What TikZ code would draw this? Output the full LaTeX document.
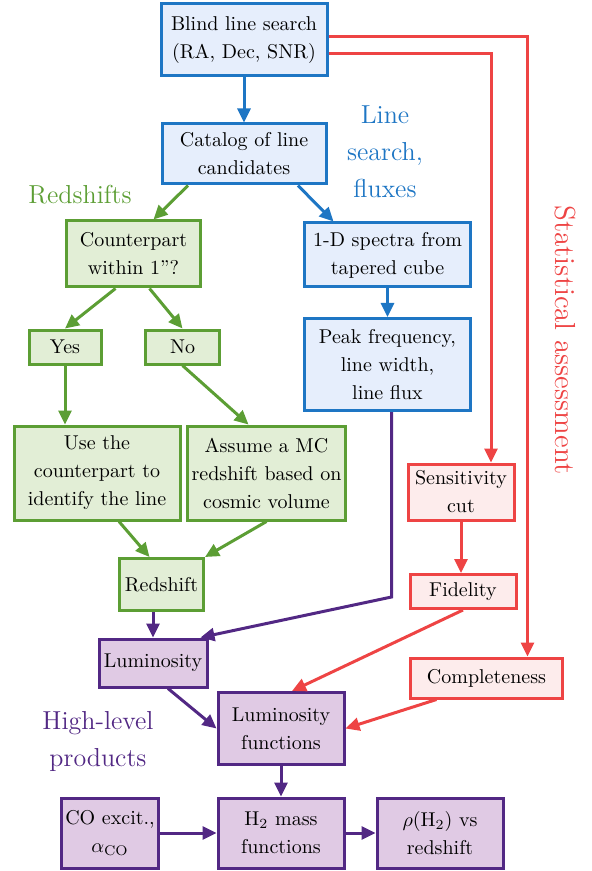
\documentclass[tikz,border=0pt]{standalone}
\usetikzlibrary{arrows.meta}

\definecolor{srchdraw}{RGB}{30,118,196}
\definecolor{srchfill}{RGB}{230,238,252}
\definecolor{zdraw}{RGB}{92,158,52}
\definecolor{zfill}{RGB}{226,238,214}
\definecolor{proddraw}{RGB}{82,40,132}
\definecolor{prodfill}{RGB}{224,202,228}
\definecolor{statdraw}{RGB}{238,68,68}
\definecolor{statfill}{RGB}{253,236,236}

\begin{document}
\begin{tikzpicture}[
    x=0.5pt, y=-0.5pt,
    every node/.style={font=\fontsize{10}{14}\selectfont},
    box/.style={
        rectangle,
        draw,
        line width=1.5pt,
        inner sep=2pt,
        align=center
    },
    srchbox/.style={box, draw=srchdraw, fill=srchfill},
    zbox/.style={box, draw=zdraw, fill=zfill},
    prodbox/.style={box, draw=proddraw, fill=prodfill},
    statbox/.style={box, draw=statdraw, fill=statfill},
    flow/.style={
        ->,
        >={Triangle[length=7pt,width=6.5pt]},
        line width=1.5pt
    },
    heading/.style={
        font=\fontsize{13}{18.5}\selectfont,
        align=center
    }
]
\useasboundingbox (0,0) rectangle (592,871);

% Line search
\node[srchbox, minimum width=83pt, minimum height=36pt] (blind) at (244,40) {Blind line search\\(RA, Dec, SNR)};
\node[srchbox, minimum width=82pt, minimum height=30pt] (catalog) at (244,154) {Catalog of line\\candidates};
\node[srchbox, minimum width=83pt, minimum height=32pt] (spectra) at (387.5,255) {1-D spectra from\\tapered cube};
\node[srchbox, minimum width=83pt, minimum height=46pt] (peak) at (387.5,364.5) {Peak frequency,\\line width,\\line flux};

% Redshifts
\node[zbox, minimum width=67pt, minimum height=33pt] (counter) at (133.5,254) {Counterpart\\within 1''?};
\node[zbox, minimum width=36pt, minimum height=17pt] (yes) at (65,347) {Yes};
\node[zbox, minimum width=37pt, minimum height=17pt] (no) at (182.5,347) {No};
\node[zbox, minimum width=83pt, minimum height=47pt] (use) at (97,473) {Use the\\counterpart to\\identify the line};
\node[zbox, minimum width=75pt, minimum height=47pt] (assume) at (266.5,473) {Assume a MC\\redshift based on\\cosmic volume};
\node[zbox, minimum width=42pt, minimum height=26pt] (redshift) at (161.5,584.5) {Redshift};

% Statistical assessment
\node[statbox, minimum width=53pt, minimum height=28pt] (sens) at (461,492) {Sensitivity\\cut};
\node[statbox, minimum width=53pt, minimum height=17pt] (fid) at (463,591.5) {Fidelity};
\node[statbox, minimum width=76pt, minimum height=20pt] (compl) at (486.5,678) {Completeness};

% High-level products
\node[prodbox, minimum width=54pt, minimum height=24pt] (lum) at (153,663) {Luminosity};
\node[prodbox, minimum width=63pt, minimum height=36pt] (lumfun) at (281,728.5) {Luminosity\\functions};
\node[prodbox, minimum width=46pt, minimum height=35pt] (co) at (110,833) {CO excit.,\\$\alpha_{\mathrm{CO}}$};
\node[prodbox, minimum width=63pt, minimum height=35pt] (h2) at (281,833) {H$_2$ mass\\functions};
\node[prodbox, minimum width=63pt, minimum height=35pt] (rho) at (440,833) {$\rho$(H$_2$) vs\\redshift};

% Headings
\node[heading, text=srchdraw] (hsearch) at (385,152) {Line\\search,\\fluxes};
\node[heading, text=zdraw] (hz) at (80,195) {Redshifts};
\node[heading, text=proddraw] (hprod) at (98,741) {High-level\\products};
\node[heading, font=\fontsize{14.5}{18}\selectfont, text=statdraw, rotate=-90] (hstat) at (565,340) {Statistical assessment};

% Line search arrows
\draw[flow, srchdraw] (blind) -- (catalog);
\draw[flow, srchdraw] ([xshift=27pt]catalog.south) -- ([xshift=-27pt]spectra.north);
\draw[flow, srchdraw] (spectra) -- (peak);

% Redshift arrows
\draw[flow, zdraw] ([xshift=-28pt]catalog.south) -- ([xshift=10pt]counter.north);
\draw[flow, zdraw] ([xshift=-9pt]counter.south) -- (yes.north);
\draw[flow, zdraw] ([xshift=8pt]counter.south) -- (no.north);
\draw[flow, zdraw] (yes.south) -- (yes.south |- use.north);
\draw[flow, zdraw] (no.south) -- ([xshift=-9pt]assume.north);
\draw[flow, zdraw] ([xshift=11pt]use.south) -- ([xshift=-6pt]redshift.north);
\draw[flow, zdraw] (assume.south) -- (redshift.north east);

% Statistical arrows
\draw[flow, statdraw] ([yshift=1.5pt]blind.east) -| ([xshift=20.5pt]compl.north);
\draw[flow, statdraw] ([yshift=-7pt]blind.east) -| ([xshift=15pt]sens.north);
\draw[flow, statdraw] (sens.south) -- (sens.south |- fid.north);
\draw[flow, statdraw] (fid.south) -- ([xshift=5.5pt]lumfun.north);
\draw[flow, statdraw] ([xshift=-25pt]compl.south) -- (lumfun.east);

% Product arrows
\draw[flow, proddraw] (lum.north |- redshift.south) -- (lum.north);
\draw[flow, proddraw] ([xshift=2pt]peak.south) -- ++(0,185) -- ([xshift=-4pt]lum.north east);
\draw[flow, proddraw] ([xshift=7.5pt]lum.south) -- (lumfun.west);
\draw[flow, proddraw] (lumfun) -- (h2);
\draw[flow, proddraw] (co) -- (h2);
\draw[flow, proddraw] (h2) -- (rho);

\end{tikzpicture}
\end{document}
